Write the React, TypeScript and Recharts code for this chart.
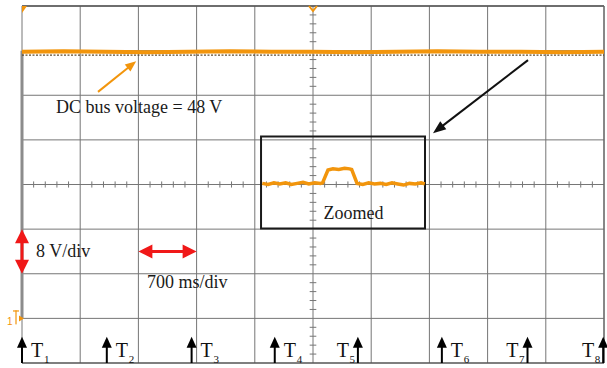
import React from 'react';
import {
  LineChart,
  Line,
  XAxis,
  YAxis,
  CartesianGrid,
  ReferenceLine,
  ReferenceArea,
  ReferenceDot,
} from 'recharts';

// Screen divisions: 700 ms/div horizontally, 8 V/div vertically
const TIME_DIVS = [0, 700, 1400, 2100, 2800, 3500, 4200, 4900, 5600, 6300, 7000];
const VOLT_DIVS = [-8, 0, 8, 16, 24, 32, 40, 48, 56];
const CENTER_T = 3500;
const CENTER_V = 24;

// DC bus trace (ms, V)
const busTime = [0, 500, 1000, 1500, 2000, 2500, 3000, 3500, 4000, 4500, 5000, 5500, 6000, 6500, 7000];
const busVolt = [47.8, 47.9, 47.8, 47.7, 47.8, 47.9, 47.8, 47.8, 47.7, 47.8, 47.9, 47.8, 47.8, 47.7, 47.8];
const busLow = [47.2, 47.2, 47.2, 47.2, 47.2, 47.2, 47.2, 47.2, 47.2, 47.2, 47.2, 47.2, 47.2, 47.2, 47.2];

// Zoomed detail of the bus ripple around T4-T5
const zoomTime = [
  2890, 2960, 3030, 3100, 3170, 3240, 3310, 3380, 3450, 3520, 3590, 3615, 3680, 3740, 3810, 3880,
  3940, 3965, 4030, 4100, 4170, 4240, 4310, 4380, 4450, 4520, 4590, 4660, 4730, 4800, 4845,
];
const zoomVolt = [
  24.2, 24.0, 24.3, 24.1, 24.3, 24.0, 24.2, 24.4, 24.1, 24.3, 24.2, 24.3, 26.6, 26.8, 26.7, 26.9,
  26.8, 26.7, 24.2, 24.0, 24.3, 24.1, 24.2, 24.0, 24.3, 24.1, 23.9, 24.2, 24.1, 24.3, 24.1,
];
const zoomBox = { t1: 2875, t2: 4847, v1: 16.1, v2: 32.6 };

// Event markers T1..T8
const markerTimes = [0, 1020, 2040, 3040, 4040, 5050, 6080, 6990];
const markerNames = ['1', '2', '3', '4', '5', '6', '7', '8'];
const markerSides = ['right', 'right', 'right', 'right', 'left', 'right', 'left', 'left'];

const busData = busTime.map((t, i) => ({ t, v: busVolt[i], low: busLow[i] }));
const zoomData = zoomTime.map((t, i) => ({ t, z: zoomVolt[i] }));

const TRACE = '#F2950C';
const GRID = '#767676';
const SERIF = '"Liberation Serif", "Times New Roman", serif';

// minor tick marks along the centre cross-hair (5 per division)
const vTicks: number[] = [];
for (let k = -19; k <= 19; k++) if (k % 5 !== 0) vTicks.push(CENTER_V + k * 1.6);
const tTicks: number[] = [];
for (let k = -24; k <= 24; k++) if (k % 5 !== 0) tTicks.push(CENTER_T + k * 140);

function headPoints(x1: number, y1: number, x2: number, y2: number, len: number, w: number) {
  const a = Math.atan2(y2 - y1, x2 - x1);
  const bx = x2 - len * Math.cos(a);
  const by = y2 - len * Math.sin(a);
  const px = (w / 2) * Math.sin(a);
  const py = (w / 2) * Math.cos(a);
  return `${x2},${y2} ${bx + px},${by - py} ${bx - px},${by + py}`;
}

const arrowShape =
  (color: string, width: number, len: number, w: number, both: boolean) => (p: any) => {
    const { x1, y1, x2, y2 } = p;
    const a = Math.atan2(y2 - y1, x2 - x1);
    const sx = both ? x1 + (len - 1) * Math.cos(a) : x1;
    const sy = both ? y1 + (len - 1) * Math.sin(a) : y1;
    const ex = x2 - (len - 1) * Math.cos(a);
    const ey = y2 - (len - 1) * Math.sin(a);
    return (
      <g>
        <line x1={sx} y1={sy} x2={ex} y2={ey} stroke={color} strokeWidth={width} />
        <polygon points={headPoints(x1, y1, x2, y2, len, w)} fill={color} />
        {both && <polygon points={headPoints(x2, y2, x1, y1, len, w)} fill={color} />}
      </g>
    );
  };

const markerShape = (name: string, side: string) => (p: any) => {
  const { x1, y1, x2, y2 } = p;
  const bottom = Math.max(y1, y2);
  const top = Math.min(y1, y2);
  const tx = side === 'right' ? x1 + 9 : x1 - 9;
  const sx = side === 'right' ? x1 + 22 : x1 - 3;
  const anchor = side === 'right' ? 'start' : 'end';
  return (
    <g>
      <line x1={x1} y1={bottom} x2={x1} y2={top + 9} stroke="#000" strokeWidth={2} />
      <polygon points={`${x1},${top} ${x1 - 5},${top + 11} ${x1 + 5},${top + 11}`} fill="#000" />
      <text x={tx} y={bottom - 6} fontSize={20} fontFamily={SERIF} textAnchor={anchor} fill="#111">
        T
      </text>
      <text x={sx} y={bottom} fontSize={11} fontFamily={SERIF} textAnchor={anchor} fill="#111">
        {name}
      </text>
    </g>
  );
};

const textShape = (txt: string, anchor: 'start' | 'middle') => (p: any) => (
  <text x={p.cx} y={p.cy} fontSize={18} fontFamily={SERIF} textAnchor={anchor} fill="#1a1a1a">
    {txt}
  </text>
);

const groundShape = (p: any) => {
  const { cx, cy } = p;
  return (
    <g fill={TRACE} stroke="none">
      <text x={cx - 15} y={cy + 7} fontSize={10} fontFamily="Liberation Sans, sans-serif">
        1
      </text>
      <rect x={cx - 9} y={cy - 8} width={6} height={1.2} />
      <rect x={cx - 6.6} y={cy - 8} width={1.2} height={14} />
      <polygon points={`${cx - 3},${cy - 3} ${cx + 2},${cy} ${cx - 3},${cy + 3}`} />
    </g>
  );
};

const topLeftMark = (p: any) => (
  <polygon points={`${p.cx},${p.cy} ${p.cx + 5},${p.cy} ${p.cx},${p.cy + 7}`} fill={TRACE} />
);

const triggerMark = (p: any) => (
  <polyline
    points={`${p.cx - 4},${p.cy} ${p.cx},${p.cy + 5} ${p.cx + 4},${p.cy}`}
    fill="none"
    stroke={TRACE}
    strokeWidth={2}
  />
);

export default function App() {
  return (
    <div style={{ position: 'absolute', left: 0, top: 0, width: 607, height: 368, background: '#fff' }}>
      <LineChart width={607} height={368} margin={{ top: 6, right: 3, bottom: 5, left: 22 }}>
        <XAxis
          type="number"
          dataKey="t"
          domain={[0, 7000]}
          ticks={TIME_DIVS}
          allowDataOverflow
          hide
        />
        <YAxis type="number" domain={[-8, 56]} ticks={VOLT_DIVS} allowDataOverflow hide />
        <CartesianGrid
          stroke={GRID}
          strokeWidth={1}
          verticalValues={TIME_DIVS}
          horizontalValues={VOLT_DIVS}
        />

        {/* centre cross-hair minor ticks */}
        {vTicks.map((v) => (
          <ReferenceLine
            key={`vt${v}`}
            segment={[
              { x: CENTER_T - 40, y: v },
              { x: CENTER_T + 40, y: v },
            ]}
            stroke={GRID}
            strokeWidth={1}
          />
        ))}
        {tTicks.map((t) => (
          <ReferenceLine
            key={`tt${t}`}
            segment={[
              { x: t, y: CENTER_V - 0.55 },
              { x: t, y: CENTER_V + 0.55 },
            ]}
            stroke={GRID}
            strokeWidth={1}
          />
        ))}

        {/* frame */}
        <ReferenceLine y={56} stroke="#555" strokeWidth={1.5} />
        <ReferenceLine y={-8} stroke="#555" strokeWidth={1.5} />
        <ReferenceLine x={7000} stroke="#666" strokeWidth={1.2} />

        {/* rising edge of the bus at power-up */}
        <ReferenceLine
          segment={[
            { x: 0, y: 0 },
            { x: 0, y: 48 },
          ]}
          stroke="#8c8c8c"
          strokeWidth={3}
        />

        <ReferenceArea
          x1={zoomBox.t1}
          x2={zoomBox.t2}
          y1={zoomBox.v1}
          y2={zoomBox.v2}
          fill="none"
          stroke="#1a1a1a"
          strokeWidth={2}
          fillOpacity={0}
        />

        <Line
          data={busData}
          dataKey="low"
          stroke="#5e4a2c"
          strokeWidth={1.2}
          strokeDasharray="2 1.5"
          dot={false}
          isAnimationActive={false}
        />
        <Line
          data={busData}
          dataKey="v"
          stroke={TRACE}
          strokeWidth={4}
          dot={false}
          isAnimationActive={false}
        />
        <Line
          data={zoomData}
          dataKey="z"
          stroke={TRACE}
          strokeWidth={3.5}
          dot={false}
          isAnimationActive={false}
        />

        {/* annotation arrows */}
        <ReferenceLine
          segment={[
            { x: 914, y: 40.6 },
            { x: 1373, y: 46.1 },
          ]}
          shape={arrowShape(TRACE, 2, 11, 9, false)}
        />
        <ReferenceLine
          segment={[
            { x: 6086, y: 46.3 },
            { x: 4943, y: 33.2 },
          ]}
          shape={arrowShape('#111', 2, 13, 10, false)}
        />
        <ReferenceLine
          segment={[
            { x: 0, y: 16 },
            { x: 0, y: 8 },
          ]}
          shape={arrowShape('#f01818', 3, 14, 14, true)}
        />
        <ReferenceLine
          segment={[
            { x: 1400, y: 12 },
            { x: 2100, y: 12 },
          ]}
          shape={arrowShape('#f01818', 3, 14, 14, true)}
        />

        {markerTimes.map((t, i) => (
          <ReferenceLine
            key={`m${i}`}
            segment={[
              { x: t, y: -8 },
              { x: t, y: -3.3 },
            ]}
            ifOverflow="visible"
            shape={markerShape(markerNames[i], markerSides[i])}
          />
        ))}

        <ReferenceDot x={409} y={36.8} r={0} shape={textShape('DC bus voltage = 48 V', 'start')} />
        <ReferenceDot x={168} y={11.0} r={0} shape={textShape('8 V/div', 'start')} />
        <ReferenceDot x={1503} y={5.4} r={0} shape={textShape('700 ms/div', 'start')} />
        <ReferenceDot x={3987} y={17.8} r={0} shape={textShape('Zoomed', 'middle')} />

        <ReferenceDot x={0} y={0} r={0} shape={groundShape} ifOverflow="visible" />
        <ReferenceDot x={0} y={56} r={0} shape={topLeftMark} ifOverflow="visible" />
        <ReferenceDot x={CENTER_T} y={56} r={0} shape={triggerMark} ifOverflow="visible" />
      </LineChart>
    </div>
  );
}
